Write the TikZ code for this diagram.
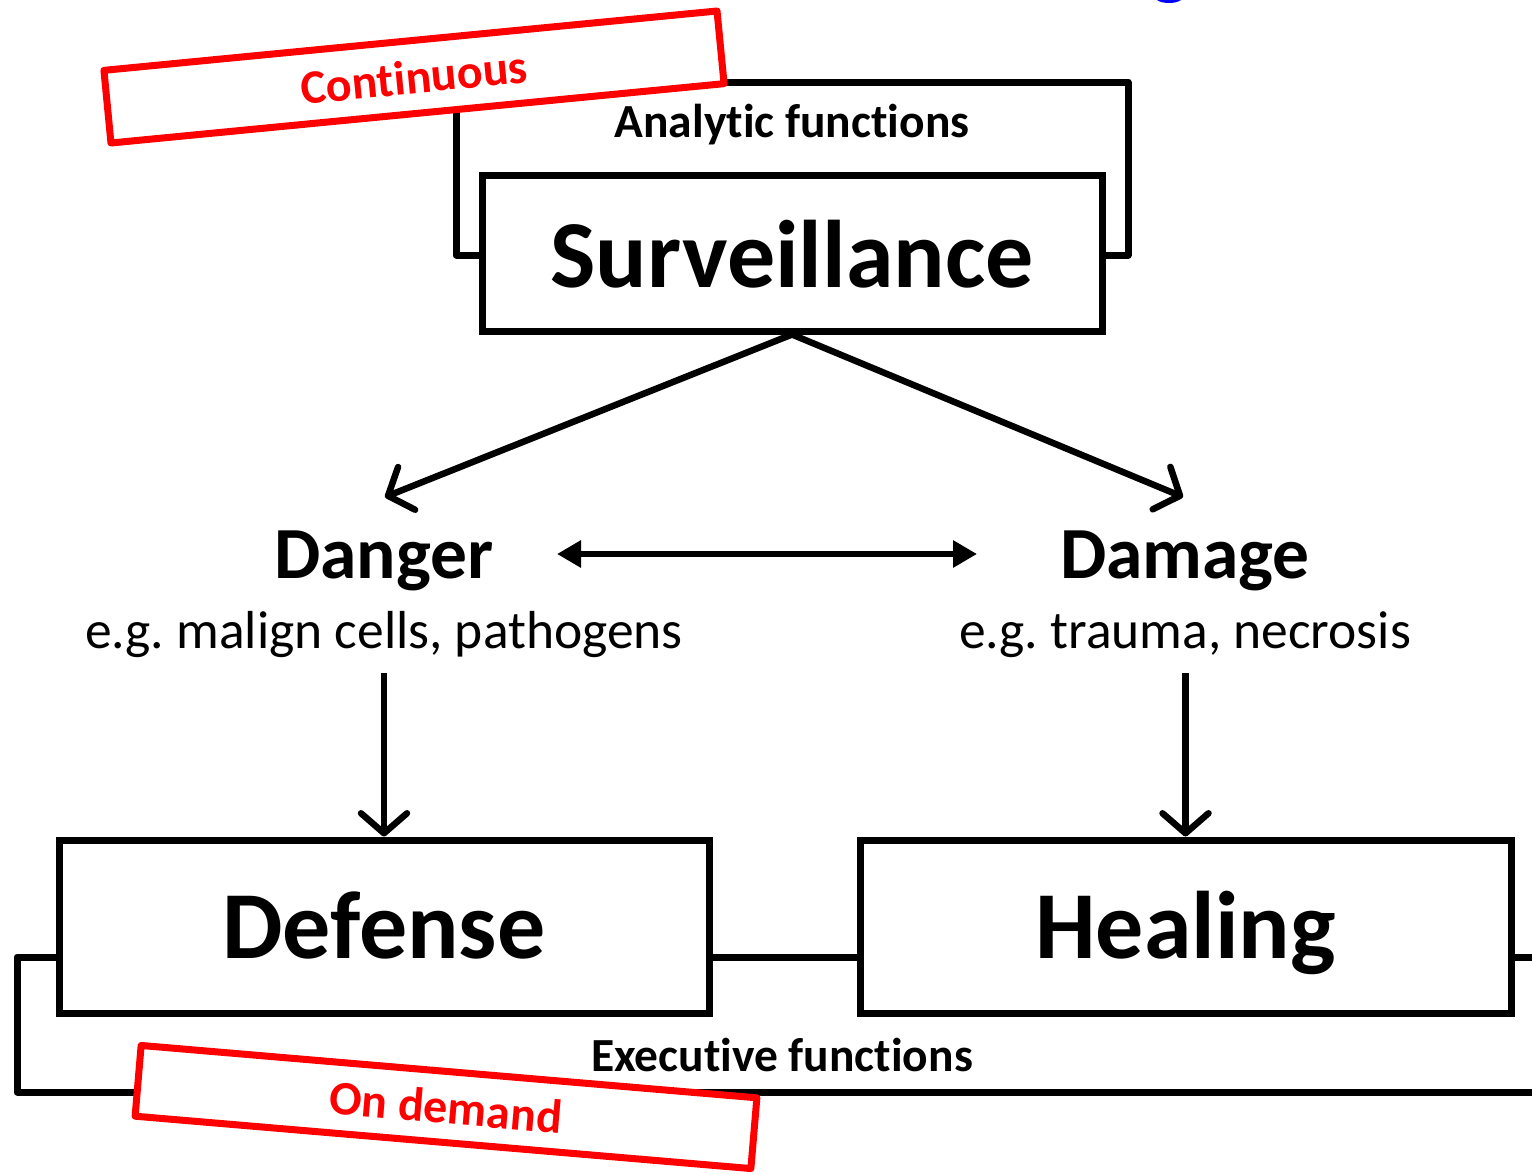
\documentclass[tikz,border=0pt]{standalone}
\usepackage{fontspec}
\setmainfont{Carlito}[Ligatures=NoCommon]
\usetikzlibrary{arrows.meta}
\newcommand{\fsz}[1]{\fontsize{#1}{#1}\selectfont}
\frenchspacing
\begin{document}
\begin{tikzpicture}[x=1pt,y=-1pt,
  box/.style={draw=black,line width=7pt,fill=white,inner sep=0pt},
  bracket/.style={draw=black,line width=7pt,line join=round},
  tag/.style={draw=red,line width=7pt,fill=white,line join=round,text=red,
    inner sep=0pt,font=\bfseries\fsz{48}},
  flow/.style={line width=6.5pt,-{Straight Barb[length=20pt,width=46pt,line width=6.5pt,round]}},
  both/.style={line width=6.5pt,{Triangle[length=24pt,width=26pt]}-{Triangle[length=24pt,width=26pt]}},
  title/.style={inner sep=0pt,anchor=base,font=\bfseries\fsz{73.5}},
  example/.style={inner sep=0pt,anchor=base,font=\fsz{53.5}},
  label/.style={inner sep=0pt,anchor=base,font=\bfseries\fsz{47.5}},
  big/.style={inner sep=0pt,anchor=base,font=\bfseries\fsz{96}}]
\useasboundingbox (0,0) rectangle (1532,1175);

% fragment of a blue heading above the frame
\fill[blue] (1157,0) .. controls (1162,4) and (1176,4) .. (1181,0) -- cycle;

% analytic bracket behind the surveillance box
\draw[bracket] (456,82) rectangle (1128,255);
\node[label] (analytic) at (792,137) {Analytic functions};
\node[box,minimum width=620pt,minimum height=156pt] (surv) at (792,253) {};
\node[big] (survtext) at (792,287) {Surveillance};

% executive bracket behind the two lower boxes
\draw[bracket] (17,957) rectangle (1560,1092);
\node[box,minimum width=650pt,minimum height=173pt] (defense) at (384,926.5) {};
\node[big] (deftext) at (384,958) {Defense};
\node[box,minimum width=651pt,minimum height=173pt] (healing) at (1185.5,926.5) {};
\node[big] (healtext) at (1185.5,958) {Healing};
\node[label] (executive) at (782,1071) {Executive functions};

% middle row
\node[title] (danger) at (384,578) {Danger};
\node[example] (dangerex) at (384,648) {e.g. malign cells, pathogens};
\node[title] (damage) at (1185,578) {Damage};
\node[example] (damageex) at (1185,648) {e.g. trauma, necrosis};

% mode labels
\node[tag,minimum width=616pt,minimum height=73pt,rotate=5.53] (cont) at (414,77) {Continuous};
\node[tag,minimum width=618pt,minimum height=71pt,rotate=-4.86] (ondemand) at (446,1107) {On demand};

% connectors
\coordinate (dangerin) at (385,497);
\coordinate (damagein) at (1183,497);
\coordinate (dangerright) at (557,554);
\coordinate (damageleft) at (977,554);
\coordinate (dangerout) at (384,673);
\coordinate (damageout) at (1185.5,673);
\draw[flow] (surv.south) -- (dangerin);
\draw[flow] (surv.south) -- (damagein);
\draw[both] (dangerright) -- (damageleft);
\draw[flow] (dangerout) -- (defense.north);
\draw[flow] (damageout) -- (healing.north);
\end{tikzpicture}
\end{document}
